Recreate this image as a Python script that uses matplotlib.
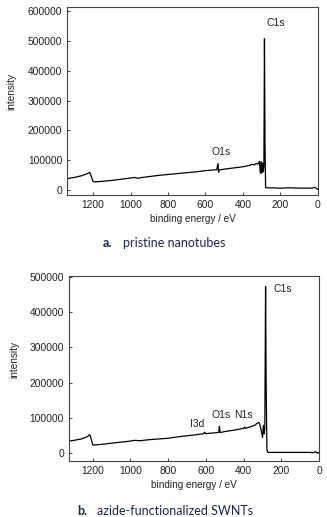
import matplotlib
matplotlib.use("Agg")
import matplotlib.pyplot as plt

plt.rcParams['font.family'] = ['Liberation Sans', 'DejaVu Sans']

# panel a: pristine nanotubes (binding energy eV, intensity)
a_energy = [1339, 1300, 1260, 1230, 1218, 1210, 1200, 1190, 1150, 1100, 1050, 1000,
            980, 960, 950, 900, 850, 800, 750, 700, 650, 600, 560, 540, 533, 530,
            527, 520, 500, 450, 400, 370, 350, 340, 330, 320, 312, 307, 303, 299,
            295, 291, 288, 285, 282, 279, 275, 250, 200, 150, 100, 60, 30, 20, 12, 5, 0]
a_int = [37000, 41000, 47000, 54000, 58000, 45000, 27000, 26000, 28000, 31000, 35000, 39000,
         41000, 38000, 40000, 44000, 48000, 51000, 54000, 57000, 60000, 64000, 66000, 67000, 88000, 59000,
         66000, 67000, 69000, 73000, 77000, 81000, 85000, 83000, 88000, 86000, 95000, 55000, 95000, 55000,
         90000, 60000, 80000, 508000, 150000, 8000, 6000, 6000, 5000, 6000, 5000, 5000, 5000, 7000, 6000, 3000, 1000]

# panel b: azide-functionalized SWNTs
b_energy = [1326, 1300, 1260, 1230, 1216, 1208, 1200, 1190, 1150, 1100, 1050, 1000,
            980, 950, 900, 850, 800, 750, 700, 650, 612, 608, 600, 560, 540, 532,
            529, 525, 500, 450, 400, 395, 390, 360, 340, 330, 320, 315, 305, 300,
            296, 292, 288, 284, 281, 277, 272, 250, 200, 150, 100, 50, 30, 20, 10, 5, 0]
b_int = [35000, 37000, 41000, 47000, 53000, 40000, 24000, 24000, 26000, 29000, 32000, 35000,
         37000, 36000, 39000, 41000, 43000, 47000, 50000, 53000, 56000, 60000, 56000, 58000, 59000, 60000,
         77000, 59000, 62000, 66000, 71000, 75000, 71000, 76000, 80000, 85000, 88000, 83000, 60000, 45000,
         80000, 55000, 70000, 472000, 200000, 10000, 3000, 3000, 3000, 3000, 3000, 3000, 2000, 5000, 1000, 3000, 0]

a_labels = [("C1s", 272, 560000, 'left'), ("O1s", 514, 128000, 'center')]
b_labels = [("C1s", 244, 465000, 'left'), ("O1s", 520, 108000, 'center'),
            ("N1s", 401, 110000, 'center'), ("I3d", 646, 83000, 'center')]

fig = plt.figure(figsize=(3.27, 5.17), dpi=100)
ax1 = fig.add_axes([0.205, 0.623, 0.767, 0.364])
ax2 = fig.add_axes([0.211, 0.108, 0.765, 0.359])


def panel(ax, x, y, labels, xmax, ylim, yticks):
    ax.plot(x, y, color='black', lw=0.9)
    ax.set_xlim(xmax, 0)
    ax.set_ylim(*ylim)
    ax.set_xticks(range(0, 1201, 200))
    ax.set_yticks(yticks)
    ax.set_yticklabels([str(v) for v in yticks])
    ax.tick_params(direction='in', length=2.5, width=0.6, labelsize=7.4, colors='#222')
    for s in ax.spines.values():
        s.set_color('#444')
        s.set_linewidth(0.8)
    ax.set_xlabel('binding energy / eV', fontsize=7.2, color='#222', labelpad=3)
    ax.set_ylabel('intensity', fontsize=7.2, color='#222', labelpad=6)
    for t, ex, ey, ha in labels:
        ax.text(ex, ey, t, fontsize=7.5, ha=ha, va='center', color='#222')


panel(ax1, a_energy, a_int, a_labels, 1339, (-17800, 616000), list(range(0, 600001, 100000)))
panel(ax2, b_energy, b_int, b_labels, 1326, (-21800, 503000), list(range(0, 500001, 100000)))
ax1.yaxis.set_label_coords(-0.2, 0.55)
ax2.yaxis.set_label_coords(-0.2, 0.55)

navy = '#1c2553'
cap = dict(family=['Lato', 'DejaVu Sans'], fontsize=9, va='center', color=navy)
fig.text(103 / 327, 0.530, 'a.', weight='bold', ha='left', **cap)
fig.text(123 / 327, 0.530, 'pristine nanotubes', ha='left', **cap)
fig.text(77 / 327, 0.012, 'b.', weight='bold', ha='left', **cap)
fig.text(97 / 327, 0.012, 'azide-functionalized SWNTs', ha='left', **cap)

fig.savefig('out.png', dpi=100)
